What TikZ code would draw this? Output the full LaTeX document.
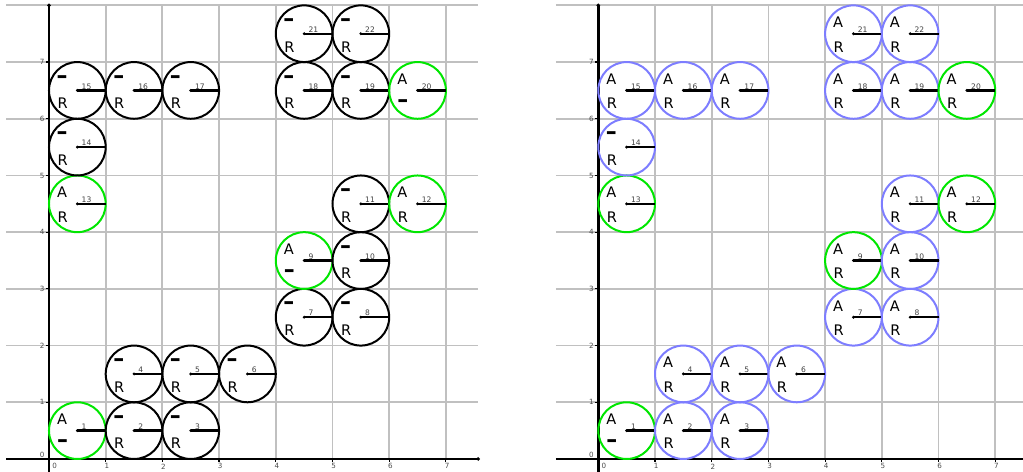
\documentclass[tikz,border=0pt]{standalone}
\usepackage{fontspec}
\setmainfont{DejaVu Sans}
\definecolor{ggreen}{RGB}{0,230,0}
\definecolor{gblue}{RGB}{125,125,255}
\definecolor{ggrid}{RGB}{192,192,192}
\tikzset{
  cellbox/.style={circle, draw=#1, line width=1pt, minimum size=1cm, inner sep=0pt, outer sep=0pt},
  letter/.style={font=\fontsize{7.3}{8}\selectfont, inner sep=0pt},
  numlab/.style={font=\fontsize{3.8}{4}\selectfont, text=black!75, inner sep=0pt, anchor=south west},
  radline/.style={line width=1.2pt},
  gridline/.style={ggrid, line width=0.9pt},
  axisline/.style={line width=1.2pt},
  ticklab/.style={font=\fontsize{3.6}{4}\selectfont, text=black!70, inner sep=0pt},
}
\newcommand\dsh{\scalebox{1.5}[1.6]{\textbf{–}}}
\newcommand\cellc[7]{%
  \node[cellbox=#5] (#1#2) at (#3,#4) {};
  \draw[radline] (#1#2.center) -- (#1#2.east);
  \fill (#1#2.center) circle (0.028);
  \node[numlab] (#1#2n) at ([shift={(0.07,0.015)}]#1#2.center) {#2};
  \node[letter] (#1#2t) at ([shift={(-0.27,0.2)}]#1#2.center) {#6};
  \node[letter] (#1#2b) at ([shift={(-0.26,-0.23)}]#1#2.center) {#7};
}
\newcommand\panelgrid[1]{%
  \foreach \k in {1,...,8} \draw[gridline] (-0.75,\k) -- (7.57,\k);
  \foreach \k in {1,...,7} \draw[gridline] (\k,0) -- (\k,8);
  \coordinate (#1xe) at (7.57,0);
  \coordinate (#1xs) at (-0.75,0);
  \coordinate (#1ye) at (0,8);
  \coordinate (#1ys) at (0,-0.25);
  \draw[axisline] (#1xs) -- (#1xe);
  \draw[axisline] (#1ys) -- (#1ye);
  \fill (#1xe) circle (0.035);
  \fill (#1ye) circle (0.035);
  \foreach \k in {1,...,7} {
    \draw[line width=0.6pt] (\k,0) -- (\k,-0.05);
    \draw[line width=0.6pt] (0,\k) -- (-0.05,\k);
    \node[ticklab] (#1x\k) at (\k+0.02,-0.13) {\k};
    \node[ticklab] (#1y\k) at (-0.12,\k) {\k};
  }
  \node[ticklab] (#1x0) at (0.1,-0.13) {0};
  \node[ticklab] (#1y0) at (-0.12,0.07) {0};
}
\begin{document}
\begin{tikzpicture}
\useasboundingbox (-0.864,-0.212) rectangle (17.178,8.095);
% ---------- left panel ----------
\begin{scope}
\panelgrid{L}
\cellc{L}{1}{0.5}{0.5}{ggreen}{A}{\dsh}
\cellc{L}{2}{1.5}{0.5}{black}{\dsh}{R}
\cellc{L}{3}{2.5}{0.5}{black}{\dsh}{R}
\cellc{L}{4}{1.5}{1.5}{black}{\dsh}{R}
\cellc{L}{5}{2.5}{1.5}{black}{\dsh}{R}
\cellc{L}{6}{3.5}{1.5}{black}{\dsh}{R}
\cellc{L}{7}{4.5}{2.5}{black}{\dsh}{R}
\cellc{L}{8}{5.5}{2.5}{black}{\dsh}{R}
\cellc{L}{9}{4.5}{3.5}{ggreen}{A}{\dsh}
\cellc{L}{10}{5.5}{3.5}{black}{\dsh}{R}
\cellc{L}{11}{5.5}{4.5}{black}{\dsh}{R}
\cellc{L}{12}{6.5}{4.5}{ggreen}{A}{R}
\cellc{L}{13}{0.5}{4.5}{ggreen}{A}{R}
\cellc{L}{14}{0.5}{5.5}{black}{\dsh}{R}
\cellc{L}{15}{0.5}{6.5}{black}{\dsh}{R}
\cellc{L}{16}{1.5}{6.5}{black}{\dsh}{R}
\cellc{L}{17}{2.5}{6.5}{black}{\dsh}{R}
\cellc{L}{18}{4.5}{6.5}{black}{\dsh}{R}
\cellc{L}{19}{5.5}{6.5}{black}{\dsh}{R}
\cellc{L}{20}{6.5}{6.5}{ggreen}{A}{\dsh}
\cellc{L}{21}{4.5}{7.5}{black}{\dsh}{R}
\cellc{L}{22}{5.5}{7.5}{black}{\dsh}{R}
\end{scope}
% ---------- right panel ----------
\begin{scope}[xshift=9.688cm]
\panelgrid{R}
\cellc{R}{1}{0.5}{0.5}{ggreen}{A}{\dsh}
\cellc{R}{2}{1.5}{0.5}{gblue}{A}{R}
\cellc{R}{3}{2.5}{0.5}{gblue}{A}{R}
\cellc{R}{4}{1.5}{1.5}{gblue}{A}{R}
\cellc{R}{5}{2.5}{1.5}{gblue}{A}{R}
\cellc{R}{6}{3.5}{1.5}{gblue}{A}{R}
\cellc{R}{7}{4.5}{2.5}{gblue}{A}{R}
\cellc{R}{8}{5.5}{2.5}{gblue}{A}{R}
\cellc{R}{9}{4.5}{3.5}{ggreen}{A}{R}
\cellc{R}{10}{5.5}{3.5}{gblue}{A}{R}
\cellc{R}{11}{5.5}{4.5}{gblue}{A}{R}
\cellc{R}{12}{6.5}{4.5}{ggreen}{A}{R}
\cellc{R}{13}{0.5}{4.5}{ggreen}{A}{R}
\cellc{R}{14}{0.5}{5.5}{gblue}{\dsh}{R}
\cellc{R}{15}{0.5}{6.5}{gblue}{A}{R}
\cellc{R}{16}{1.5}{6.5}{gblue}{A}{R}
\cellc{R}{17}{2.5}{6.5}{gblue}{A}{R}
\cellc{R}{18}{4.5}{6.5}{gblue}{A}{R}
\cellc{R}{19}{5.5}{6.5}{gblue}{A}{R}
\cellc{R}{20}{6.5}{6.5}{ggreen}{A}{R}
\cellc{R}{21}{4.5}{7.5}{gblue}{A}{R}
\cellc{R}{22}{5.5}{7.5}{gblue}{A}{R}
\end{scope}
\end{tikzpicture}
\end{document}
